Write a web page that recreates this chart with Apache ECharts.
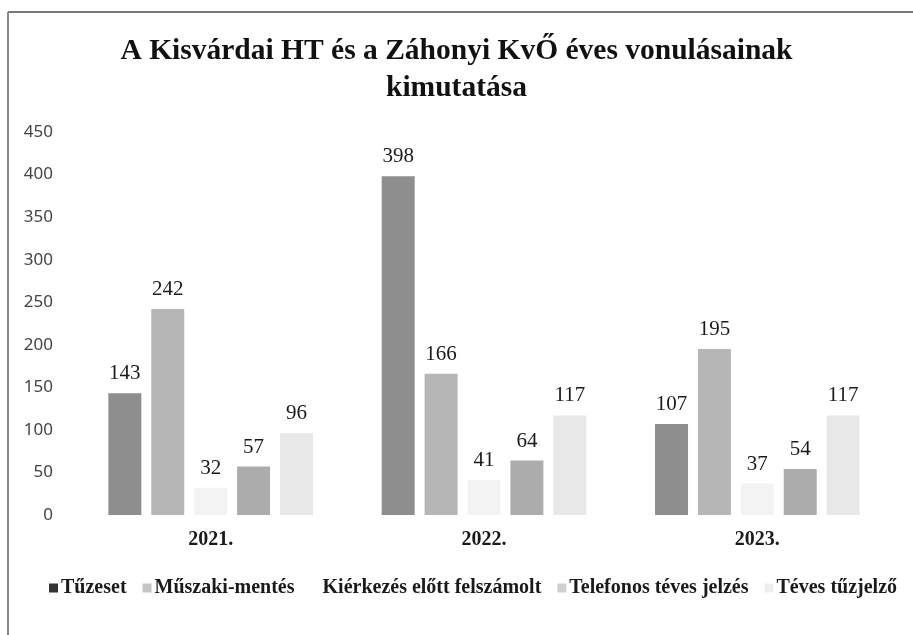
<!DOCTYPE html>
<html>
<head>
<meta charset="utf-8">
<script src="https://cdn.jsdelivr.net/npm/echarts@6/dist/echarts.min.js"></script>
<style>
    html, body { margin: 0; padding: 0; background: #fff; }
    #chart { width: 913px; height: 635px; }
</style>
</head>
<body>
<div id="chart"></div>
<script>
const years = ['2021.', '2022.', '2023.'];
const seriesNames = ['Tűzeset', 'Műszaki-mentés', 'Kiérkezés előtt felszámolt', 'Telefonos téves jelzés', 'Téves tűzjelző'];
const tuzeset = [143, 398, 107];
const muszaki = [242, 166, 195];
const kierkezes = [32, 41, 37];
const telefonos = [57, 64, 54];
const tevesTuzjelzo = [96, 117, 117];
const yTicks = [0, 50, 100, 150, 200, 250, 300, 350, 400, 450];

const values = [tuzeset, muszaki, kierkezes, telefonos, tevesTuzjelzo];
const barColors = ['#8e8e8e', '#b6b6b6', '#f3f3f3', '#acacac', '#e8e8e8'];
const legendColors = ['#333333', '#c4c4c4', '#ffffff', '#d0d0d0', '#eeeeee'];
const serif = '"Liberation Serif", "DejaVu Serif", serif';

const chart = echarts.init(document.getElementById('chart'));

let series = [];
seriesNames.forEach(function (name, i) {
    series.push({
        name: name,
        type: 'bar',
        barWidth: 33,
        barGap: '30%',
        data: values[i],
        itemStyle: { color: barColors[i] },
        label: {
            show: true,
            position: 'top',
            distance: 9,
            fontFamily: serif,
            fontSize: 21,
            color: '#1a1a1a'
        }
    });
});

chart.setOption({
    animation: false,
    backgroundColor: '#fff',
    title: {
        text: 'A Kisvárdai HT és a Záhonyi KvŐ éves vonulásainak\nkimutatása',
        left: 'center',
        top: 28,
        textStyle: {
            fontFamily: serif,
            fontWeight: 'bold',
            fontSize: 29.5,
            lineHeight: 37,
            color: '#111'
        }
    },
    legend: {
        bottom: 32,
        left: 44,
        itemWidth: 9,
        itemHeight: 9,
        itemGap: 16,
        icon: 'rect',
        textStyle: {
            fontFamily: serif,
            fontWeight: 'bold',
            fontSize: 20,
            color: '#1a1a1a',
            padding: [0, 0, 0, -2]
        },
        data: seriesNames.map(function (n, i) {
            return { name: n, itemStyle: { color: legendColors[i] } };
        })
    },
    grid: {
        left: 74,
        right: 19,
        top: 132,
        bottom: 120
    },
    xAxis: {
        type: 'category',
        data: years,
        axisLine: { show: false },
        axisTick: { show: false },
        axisLabel: {
            margin: 15,
            fontFamily: serif,
            fontWeight: 'bold',
            fontSize: 20,
            color: '#1a1a1a'
        }
    },
    yAxis: {
        type: 'value',
        min: yTicks[0],
        max: yTicks[yTicks.length - 1],
        interval: 50,
        splitLine: { show: false },
        axisLine: { show: false },
        axisTick: { show: false },
        axisLabel: {
            margin: 21,
            fontFamily: '"Noto Sans", sans-serif',
            fontSize: 17,
            color: '#444'
        }
    },
    graphic: [
        { type: 'line', shape: { x1: 8, y1: 12, x2: 913, y2: 12 }, style: { stroke: '#777', lineWidth: 2 } },
        { type: 'line', shape: { x1: 8, y1: 12, x2: 8, y2: 635 }, style: { stroke: '#888', lineWidth: 2 } }
    ],
    series: series
});
</script>
</body>
</html>
